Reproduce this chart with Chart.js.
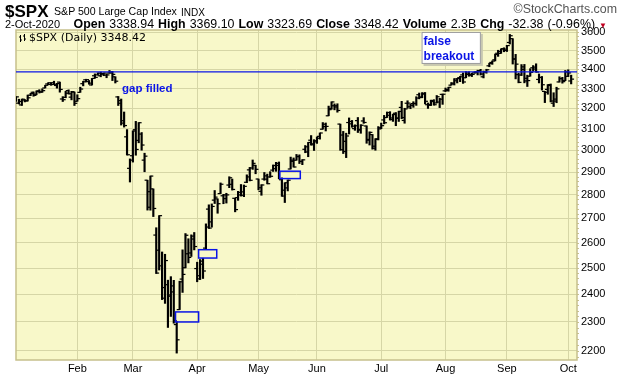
<!DOCTYPE html>
<html>
<head>
<meta charset="utf-8">
<script src="https://cdn.jsdelivr.net/npm/chart.js@4.4.1/dist/chart.umd.min.js"></script>
<style>
html,body{margin:0;padding:0;background:#fff;}
#wrap{position:relative;width:620px;height:376px;font-family:"Liberation Sans",Arial,sans-serif;overflow:hidden;}
#c{position:absolute;left:0;top:0;}
.t{position:absolute;white-space:nowrap;color:#000;line-height:1;}
.b{font-weight:bold;}
</style>
</head>
<body>
<div id="wrap">
<canvas id="c" width="620" height="376" style="width:620px;height:376px"></canvas>
<div class="t b" style="left:5px;top:3px;font-size:17px;">$SPX</div>
<div class="t" style="left:54px;top:6px;font-size:10.6px;">S&amp;P 500 Large Cap Index</div>
<div class="t" style="left:181px;top:7.5px;font-size:10px;">INDX</div>
<div class="t" style="right:3px;top:2.5px;font-size:12.4px;color:#555;">&copy;StockCharts.com</div>
<div class="t" style="left:5px;top:18.5px;font-size:11px;">2-Oct-2020</div>
<div class="t" style="right:13px;top:17.8px;font-size:12.4px;word-spacing:0.6px;"><span class="b">Open</span> 3338.94 <span class="b">High</span> 3369.10 <span class="b">Low</span> 3323.69 <span class="b">Close</span> 3348.42 <span class="b">Volume</span> 2.3B <span class="b">Chg</span> -32.38 (-0.96%) <span style="color:#c00020;font-size:8px;">&#9660;</span></div>
<svg style="position:absolute;left:19px;top:34px" width="8" height="9"><path d="M1.5 1v7M0 3h1.5M1.5 6h1.5M5.5 0v7M4 2h1.5M5.5 5h1.5" stroke="#000" stroke-width="1" fill="none"/></svg>
<div class="t" style="left:29px;top:32px;font-size:11px;font-family:'DejaVu Sans';">$SPX (Daily) 3348.42</div>
</div>
<script>
// ---- data: S&P 500 daily OHLC, 2 Jan 2020 - 2 Oct 2020 ----
const dates = [
'2020-01-02','2020-01-03','2020-01-06','2020-01-07','2020-01-08','2020-01-09','2020-01-10','2020-01-13','2020-01-14','2020-01-15','2020-01-16','2020-01-17','2020-01-21','2020-01-22','2020-01-23','2020-01-24','2020-01-27','2020-01-28','2020-01-29','2020-01-30','2020-01-31',
'2020-02-03','2020-02-04','2020-02-05','2020-02-06','2020-02-07','2020-02-10','2020-02-11','2020-02-12','2020-02-13','2020-02-14','2020-02-18','2020-02-19','2020-02-20','2020-02-21','2020-02-24','2020-02-25','2020-02-26','2020-02-27','2020-02-28',
'2020-03-02','2020-03-03','2020-03-04','2020-03-05','2020-03-06','2020-03-09','2020-03-10','2020-03-11','2020-03-12','2020-03-13','2020-03-16','2020-03-17','2020-03-18','2020-03-19','2020-03-20','2020-03-23','2020-03-24','2020-03-25','2020-03-26','2020-03-27','2020-03-30','2020-03-31',
'2020-04-01','2020-04-02','2020-04-03','2020-04-06','2020-04-07','2020-04-08','2020-04-09','2020-04-13','2020-04-14','2020-04-15','2020-04-16','2020-04-17','2020-04-20','2020-04-21','2020-04-22','2020-04-23','2020-04-24','2020-04-27','2020-04-28','2020-04-29','2020-04-30',
'2020-05-01','2020-05-04','2020-05-05','2020-05-06','2020-05-07','2020-05-08','2020-05-11','2020-05-12','2020-05-13','2020-05-14','2020-05-15','2020-05-18','2020-05-19','2020-05-20','2020-05-21','2020-05-22','2020-05-26','2020-05-27','2020-05-28','2020-05-29',
'2020-06-01','2020-06-02','2020-06-03','2020-06-04','2020-06-05','2020-06-08','2020-06-09','2020-06-10','2020-06-11','2020-06-12','2020-06-15','2020-06-16','2020-06-17','2020-06-18','2020-06-19','2020-06-22','2020-06-23','2020-06-24','2020-06-25','2020-06-26','2020-06-29','2020-06-30',
'2020-07-01','2020-07-02','2020-07-06','2020-07-07','2020-07-08','2020-07-09','2020-07-10','2020-07-13','2020-07-14','2020-07-15','2020-07-16','2020-07-17','2020-07-20','2020-07-21','2020-07-22','2020-07-23','2020-07-24','2020-07-27','2020-07-28','2020-07-29','2020-07-30','2020-07-31',
'2020-08-03','2020-08-04','2020-08-05','2020-08-06','2020-08-07','2020-08-10','2020-08-11','2020-08-12','2020-08-13','2020-08-14','2020-08-17','2020-08-18','2020-08-19','2020-08-20','2020-08-21','2020-08-24','2020-08-25','2020-08-26','2020-08-27','2020-08-28','2020-08-31',
'2020-09-01','2020-09-02','2020-09-03','2020-09-04','2020-09-08','2020-09-09','2020-09-10','2020-09-11','2020-09-14','2020-09-15','2020-09-16','2020-09-17','2020-09-18','2020-09-21','2020-09-22','2020-09-23','2020-09-24','2020-09-25','2020-09-28','2020-09-29','2020-09-30',
'2020-10-01','2020-10-02'
];
// two empty trading slots to the right of the last bar
const emptySlots = ['2020-10-05','2020-10-06'];

const opens = [
3244.67,3226.36,3217.55,3241.86,3238.59,3266.03,3281.01,3271.13,3285.35,3282.27,3302.97,3323.66,3321.03,3330.02,3315.77,3333.10,3247.16,3255.35,3289.46,3256.45,3282.33,
3235.66,3280.61,3324.91,3344.92,3335.54,3318.28,3365.87,3370.50,3365.90,3378.08,3369.04,3380.39,3380.45,3360.50,3257.61,3238.94,3139.90,3062.54,2916.90,
2974.28,3096.46,3045.75,3075.70,2954.20,2863.89,2813.48,2825.60,2630.86,2569.99,2508.59,2425.66,2436.50,2393.48,2431.94,2290.71,2344.44,2457.77,2501.29,2555.87,2558.98,2614.69,
2498.08,2458.54,2514.92,2578.28,2738.65,2685.00,2776.99,2782.46,2805.10,2795.64,2799.34,2842.43,2845.62,2784.81,2787.89,2810.42,2812.64,2854.65,2909.96,2918.46,2930.91,
2869.09,2815.01,2868.88,2883.14,2878.26,2908.83,2915.46,2939.50,2865.86,2794.54,2829.95,2913.86,2948.59,2953.63,2969.95,2948.05,3004.08,3015.65,3046.61,3025.17,
3038.78,3064.78,3098.90,3111.56,3163.84,3199.92,3213.32,3213.42,3123.53,3071.04,2993.76,3131.00,3136.13,3101.64,3140.29,3094.42,3138.70,3114.40,3046.60,3073.20,3018.59,3050.20,
3105.92,3143.64,3155.29,3166.44,3153.07,3176.17,3152.47,3205.08,3141.11,3225.98,3208.36,3224.21,3224.29,3268.52,3254.86,3271.64,3218.58,3219.84,3234.27,3227.22,3231.76,3270.45,
3288.26,3289.92,3317.37,3323.17,3340.05,3356.04,3370.34,3355.46,3372.95,3368.66,3380.86,3387.04,3392.51,3360.48,3386.01,3418.09,3435.95,3449.97,3485.14,3494.69,3509.73,
3507.44,3543.76,3564.74,3453.60,3371.88,3369.82,3412.56,3352.70,3363.56,3407.73,3411.23,3346.86,3357.38,3285.57,3295.75,3320.11,3226.14,3236.66,3333.90,3350.92,3341.21,
3385.87,3338.94
];
const highs = [
3258.14,3246.15,3246.84,3244.91,3267.07,3275.58,3282.99,3288.13,3294.25,3298.66,3317.11,3329.88,3329.79,3337.77,3326.88,3333.18,3258.85,3285.78,3293.47,3285.91,3282.33,
3268.44,3306.92,3337.58,3347.96,3341.42,3352.26,3375.63,3381.47,3385.09,3380.69,3375.01,3393.52,3389.15,3360.76,3259.81,3246.99,3182.51,3097.07,2959.72,
3090.96,3136.72,3130.97,3083.04,2985.93,2863.89,2882.59,2825.60,2660.95,2711.33,2562.98,2553.93,2453.57,2466.97,2453.01,2300.73,2449.71,2571.42,2637.01,2615.91,2631.80,2641.39,
2522.75,2533.22,2538.18,2676.85,2756.89,2760.75,2818.57,2782.46,2851.85,2801.88,2806.51,2879.22,2868.98,2785.54,2815.10,2844.90,2842.71,2887.72,2921.15,2954.86,2930.91,
2869.09,2844.24,2898.23,2891.11,2901.92,2932.16,2944.25,2945.82,2874.14,2852.80,2865.01,2968.09,2964.21,2980.29,2978.50,2956.76,3021.72,3036.25,3068.67,3049.17,
3062.18,3081.07,3130.94,3128.91,3211.72,3233.13,3222.71,3223.27,3123.53,3088.42,3079.76,3153.45,3141.16,3120.00,3155.53,3120.92,3154.90,3115.01,3086.25,3073.73,3053.89,3111.51,
3128.44,3165.81,3182.59,3184.15,3171.80,3179.78,3186.82,3235.32,3200.95,3238.28,3220.39,3233.52,3258.61,3277.29,3279.32,3279.99,3227.26,3241.43,3243.72,3264.74,3250.92,3272.17,
3302.73,3306.84,3330.77,3351.03,3352.54,3363.29,3381.01,3387.89,3387.24,3378.51,3387.59,3395.06,3399.54,3390.80,3399.96,3432.09,3444.21,3481.07,3501.38,3509.23,3514.77,
3528.03,3588.11,3564.85,3479.15,3379.97,3424.77,3425.55,3368.95,3402.93,3419.48,3428.92,3375.17,3362.27,3285.57,3320.31,3323.35,3278.70,3306.88,3360.74,3357.92,3393.56,
3397.18,3369.10
];
const lows = [
3235.53,3222.34,3214.64,3232.43,3236.67,3263.67,3260.86,3268.43,3277.19,3280.69,3302.82,3318.86,3316.61,3320.04,3301.87,3281.53,3234.50,3253.22,3271.89,3242.80,3214.68,
3235.66,3280.61,3313.75,3334.39,3322.12,3317.77,3352.72,3369.72,3360.52,3366.15,3355.61,3378.83,3341.02,3328.45,3214.65,3118.77,3108.99,2977.39,2855.84,
2945.19,2976.63,3034.38,2999.83,2901.54,2734.43,2734.00,2707.22,2478.86,2492.37,2380.94,2367.04,2280.52,2319.78,2295.56,2191.86,2344.44,2407.53,2500.72,2520.02,2545.28,2571.15,
2447.49,2455.79,2459.96,2574.57,2657.67,2663.30,2762.36,2721.17,2805.10,2761.54,2764.32,2830.88,2820.43,2727.10,2775.95,2794.26,2791.76,2852.89,2860.71,2912.16,2892.47,
2821.61,2797.85,2863.55,2847.65,2876.48,2902.88,2903.44,2869.59,2793.15,2766.64,2816.78,2913.86,2922.35,2953.63,2938.57,2933.59,2988.17,2969.75,3023.40,2998.61,
3031.54,3051.64,3098.90,3090.41,3163.84,3196.00,3193.11,3181.49,2999.49,2984.47,2965.66,3076.06,3108.03,3093.51,3083.11,3079.39,3127.12,3032.13,3024.01,3004.63,2999.74,3047.83,
3101.17,3124.52,3155.29,3142.93,3136.53,3115.70,3136.22,3149.43,3127.66,3200.76,3198.59,3205.65,3215.16,3247.77,3253.10,3222.66,3200.05,3214.25,3216.17,3227.22,3204.13,3220.26,
3284.53,3286.37,3317.37,3318.14,3328.72,3335.44,3326.44,3355.46,3363.35,3361.64,3379.22,3370.15,3369.66,3354.69,3379.31,3413.13,3425.84,3444.15,3468.35,3484.32,3493.25,
3494.60,3535.23,3427.41,3349.63,3329.27,3366.84,3329.25,3310.47,3363.56,3389.25,3384.45,3328.82,3292.40,3229.10,3270.95,3232.57,3209.45,3228.44,3332.91,3327.54,3340.47,
3361.39,3323.69
];
const closes = [
3257.85,3234.85,3246.28,3237.18,3253.05,3274.70,3265.35,3288.13,3283.15,3289.29,3316.81,3329.62,3320.79,3321.75,3325.54,3295.47,3243.63,3276.24,3273.40,3283.66,3225.52,
3248.92,3297.59,3334.69,3345.78,3327.71,3352.09,3357.75,3379.45,3373.94,3380.16,3370.29,3386.15,3373.23,3337.75,3225.89,3128.21,3116.39,2978.76,2954.22,
3090.23,3003.37,3130.12,3023.94,2972.37,2746.56,2882.23,2741.38,2480.64,2711.02,2386.13,2529.19,2398.10,2409.39,2304.92,2237.40,2447.33,2475.56,2630.07,2541.47,2626.65,2584.59,
2470.50,2526.90,2488.65,2663.68,2659.41,2749.98,2789.82,2761.63,2846.06,2783.36,2799.55,2874.56,2823.16,2736.56,2799.31,2797.80,2836.74,2878.48,2863.39,2939.51,2912.43,
2830.71,2842.74,2868.44,2848.42,2881.19,2929.80,2930.32,2870.12,2820.00,2852.50,2863.70,2953.91,2922.94,2971.61,2948.51,2955.45,2991.77,3036.13,3029.73,3044.31,
3055.73,3080.82,3122.87,3112.35,3193.93,3232.39,3207.18,3190.14,3002.10,3041.31,3066.59,3124.74,3113.49,3115.34,3097.74,3117.86,3131.29,3050.33,3083.76,3009.05,3053.24,3100.29,
3115.86,3130.01,3179.72,3145.32,3169.94,3152.05,3185.04,3155.22,3197.52,3226.56,3215.57,3224.73,3251.84,3257.30,3276.02,3235.66,3215.63,3239.41,3218.44,3258.44,3246.22,3271.12,
3294.61,3306.51,3327.77,3349.16,3351.28,3360.47,3333.69,3380.35,3373.43,3372.85,3381.99,3389.78,3374.85,3385.51,3397.16,3431.28,3443.62,3478.73,3484.55,3508.01,3500.31,
3526.65,3580.84,3455.06,3426.96,3331.84,3398.96,3339.19,3340.97,3383.54,3401.20,3385.49,3357.01,3319.47,3281.06,3315.57,3236.92,3246.59,3298.46,3351.60,3335.47,3363.00,
3380.80,3348.42
];

// y-axis tick labels
const yTickValues = [2200,2300,2400,2500,2600,2700,2800,2900,3000,3100,3200,3300,3400,3500,3600];
const yMin = 2168.6, yMax = 3612.8;
const monthNames = ['Jan','Feb','Mar','Apr','May','Jun','Jul','Aug','Sep','Oct','Nov','Dec'];

// annotations (in data units: slot index and price)
const resistanceLevel = 3386.15;            // Feb 19 close
const gapBoxes = [                          // [fromSlot, toSlot, lowPrice, highPrice]
  [54.6, 62.5, 2300, 2336],
  [62.5, 68.7, 2539, 2572],
  [90.3, 97.3, 2871, 2904]
];
const gapFilledLabel = {text:'gap filled', slot:36.3, price:3298};
const breakoutNote = {lines:['false','breakout'], fromSlot:138.8, toSlot:159.1, lowPrice:3428, highPrice:3602};

// ---- chart ----
const labels = dates.concat(emptySlots);
const isMonthStart = i => i > 0 && i < dates.length && dates[i].slice(5,7) !== dates[i-1].slice(5,7);

const BG = '#f8f8c9';
const GRID = '#d6d6a6';
const FRAME = '#c6c08c';
const BLUE = '#0a14e6';

const framePlugin = {
  id:'frame',
  beforeDraw(chart){
    const {ctx, chartArea:a} = chart;
    ctx.save();
    ctx.fillStyle = '#fff';
    ctx.fillRect(0,0,chart.width,chart.height);
    ctx.fillStyle = BG;
    ctx.fillRect(a.left, a.top, a.right-a.left, a.bottom-a.top);
    ctx.restore();
  },
  beforeDatasetsDraw(chart){
    const {ctx, chartArea:a, scales:{y}} = chart;
    ctx.save();
    ctx.strokeStyle = FRAME;
    ctx.lineWidth = 1.5;
    ctx.strokeRect(a.left, a.top, a.right-a.left, a.bottom-a.top);
    ctx.lineWidth = 1;
    ctx.beginPath();
    for (let v = 2180; v <= 3600; v += 20) {
      const py = Math.round(y.getPixelForValue(v)) + 0.5;
      ctx.moveTo(a.right, py); ctx.lineTo(a.right+2, py);
    }
    ctx.stroke();
    ctx.restore();
  }
};

const ohlcPlugin = {
  id:'ohlc',
  afterDatasetsDraw(chart){
    const {ctx, chartArea:a, scales:{x,y}} = chart;
    ctx.save();
    ctx.beginPath(); ctx.rect(a.left, a.top, a.right-a.left, a.bottom-a.top); ctx.clip();
    // open (left) / close (right) ticks
    ctx.fillStyle = '#000';
    for (let i = 0; i < dates.length; i++) {
      const px = x.getPixelForValue(i);
      const yo = y.getPixelForValue(opens[i]);
      const yc = y.getPixelForValue(closes[i]);
      ctx.fillRect(px-2.9, yo-0.6, 2.9, 1.2);
      ctx.fillRect(px, yc-0.6, 2.9, 1.2);
    }
    // resistance line
    const ly = y.getPixelForValue(resistanceLevel);
    ctx.strokeStyle = BLUE; ctx.lineWidth = 1.2;
    ctx.beginPath(); ctx.moveTo(a.left, ly); ctx.lineTo(a.right, ly); ctx.stroke();
    // gap boxes
    ctx.lineWidth = 1.5;
    gapBoxes.forEach(([s0,s1,p0,p1]) => {
      const x0 = x.getPixelForValue(s0), x1 = x.getPixelForValue(s1);
      const y0 = y.getPixelForValue(p1), y1 = y.getPixelForValue(p0);
      ctx.strokeRect(x0, y0, x1-x0, y1-y0);
    });
    // "gap filled"
    ctx.fillStyle = BLUE;
    ctx.font = 'bold 11.5px "Liberation Sans", Arial, sans-serif';
    ctx.textBaseline = 'middle'; ctx.textAlign = 'left';
    ctx.fillText(gapFilledLabel.text, x.getPixelForValue(gapFilledLabel.slot), y.getPixelForValue(gapFilledLabel.price));
    // "false breakout" note
    const bx0 = x.getPixelForValue(breakoutNote.fromSlot), bx1 = x.getPixelForValue(breakoutNote.toSlot);
    const by0 = y.getPixelForValue(breakoutNote.highPrice), by1 = y.getPixelForValue(breakoutNote.lowPrice);
    ctx.fillStyle = '#c8c8b0';
    ctx.fillRect(bx0+2, by0+2, bx1-bx0, by1-by0);
    ctx.fillStyle = '#fff';
    ctx.fillRect(bx0, by0, bx1-bx0, by1-by0);
    ctx.strokeStyle = '#9a9a9a'; ctx.lineWidth = 1;
    ctx.strokeRect(bx0+0.5, by0+0.5, bx1-bx0-1, by1-by0-1);
    ctx.fillStyle = BLUE;
    ctx.font = 'bold 12px "Liberation Sans", Arial, sans-serif';
    ctx.textBaseline = 'alphabetic';
    breakoutNote.lines.forEach((t,k) => ctx.fillText(t, bx0+2, by0+13+k*15));
    ctx.restore();
  }
};

new Chart(document.getElementById('c'), {
  type:'bar',
  data:{
    labels: labels,
    datasets:[{
      data: dates.map((d,i) => [lows[i], highs[i]]),
      backgroundColor:'#000',
      borderWidth:0,
      barThickness:1.5
    }]
  },
  options:{
    responsive:false,
    animation:false,
    devicePixelRatio:1,
    layout:{padding:{left:16, top:30, right:0, bottom:0}},
    plugins:{legend:{display:false}, tooltip:{enabled:false}},
    scales:{
      x:{
        type:'category',
        offset:false,
        grid:{offset:false, color:GRID, drawTicks:false, lineWidth:1},
        border:{display:false},
        afterBuildTicks(s){ s.ticks = s.ticks.filter(t => isMonthStart(t.value)); },
        afterFit(s){ s.height = 16; },
        ticks:{
          autoSkip:false, maxRotation:0, minRotation:0, padding:2, color:'#000',
          font:{family:'"Liberation Sans", Arial, sans-serif', size:11},
          callback(v){ return monthNames[parseInt(this.getLabelForValue(v).slice(5,7),10)-1]; }
        }
      },
      y:{
        type:'logarithmic',
        position:'right',
        min:yMin, max:yMax,
        grid:{color:GRID, drawTicks:false, lineWidth:1},
        border:{display:false},
        afterBuildTicks(s){ s.ticks = yTickValues.map(v => ({value:v})); },
        afterFit(s){ s.width = 43; },
        ticks:{
          autoSkip:false, padding:4, color:'#000',
          font:{family:'"Liberation Sans", Arial, sans-serif', size:11},
          callback(v){ return String(v); }
        }
      }
    }
  },
  plugins:[framePlugin, ohlcPlugin]
});
</script>
</body>
</html>
